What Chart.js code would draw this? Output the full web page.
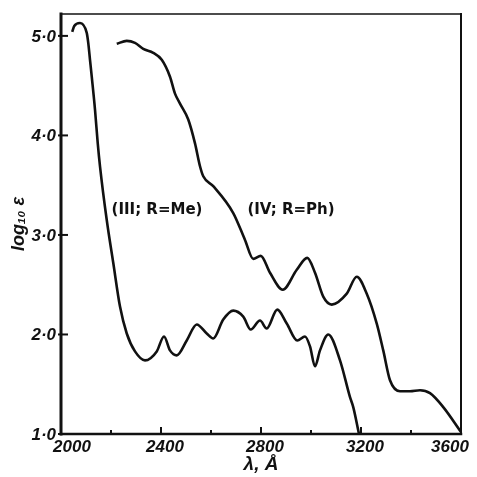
<!DOCTYPE html>
<html>
<head>
<meta charset="utf-8">
<script src="https://cdn.jsdelivr.net/npm/chart.js@4"></script>
<style>
  html, body { margin: 0; padding: 0; background: #fff; }
</style>
</head>
<body>
<canvas id="spectrum" width="477" height="477"></canvas>
<script>
/* Data */
let meWave = [2045, 2053, 2076, 2103, 2109, 2116, 2123, 2136, 2147, 2156, 2183, 2209, 2236, 2263, 2296, 2336, 2383, 2412, 2436, 2463, 2503, 2543, 2583, 2609, 2649, 2689, 2729, 2759, 2796, 2823, 2865, 2903, 2945, 2976, 2996, 3016, 3036, 3069, 3116, 3156, 3169, 3192];
let meLog = [5.04, 5.10, 5.13, 5.03, 4.93, 4.76, 4.59, 4.26, 3.92, 3.69, 3.15, 2.72, 2.28, 2.01, 1.83, 1.74, 1.83, 1.98, 1.84, 1.79, 1.94, 2.10, 2.01, 1.96, 2.15, 2.24, 2.18, 2.05, 2.14, 2.06, 2.25, 2.11, 1.94, 1.98, 1.88, 1.68, 1.84, 2.00, 1.74, 1.37, 1.27, 1.00];

let phWave = [2223, 2263, 2296, 2329, 2369, 2403, 2436, 2456, 2476, 2509, 2536, 2556, 2569, 2609, 2689, 2736, 2769, 2799, 2836, 2887, 2943, 2985, 3016, 3049, 3083, 3143, 3183, 3223, 3263, 3289, 3316, 3356, 3396, 3436, 3476, 3529, 3600];
let phLog = [4.92, 4.95, 4.93, 4.87, 4.83, 4.76, 4.59, 4.42, 4.32, 4.16, 3.92, 3.69, 3.59, 3.49, 3.22, 2.95, 2.76, 2.79, 2.62, 2.45, 2.65, 2.77, 2.62, 2.38, 2.30, 2.41, 2.58, 2.41, 2.11, 1.84, 1.54, 1.43, 1.43, 1.44, 1.41, 1.27, 1.02];

let xTicks = [2000, 2200, 2400, 2600, 2800, 3000, 3200, 3400, 3600];
let xLabelValues = [2000, 2400, 2800, 3200, 3600];
let xTickLabels = ['2000', '2400', '2800', '3200', '3600'];
let yTicks = [1, 2, 3, 4, 5];
let yTickLabels = ['1·0', '2·0', '3·0', '4·0', '5·0'];

let curveNames = ['(III; R=Me)', '(IV; R=Ph)'];
let namePlaces = [[2384, 3.25], [2920, 3.25]];

let tickFont = 'italic bold 17px "Liberation Sans"';

function toPoints(xs, ys) {
  return xs.map((x, i) => ({ x: x, y: ys[i] }));
}

// axes frame, inward ticks, tick labels and curve names
const framePlugin = {
  id: 'frame',
  afterDraw(chart) {
    let ctx = chart.ctx;
    let a = chart.chartArea;
    let xs = chart.scales.x;
    let ys = chart.scales.y;
    ctx.save();
    ctx.strokeStyle = '#111';
    ctx.lineCap = 'square';

    // top and right edges
    ctx.lineWidth = 1.6;
    ctx.beginPath();
    ctx.moveTo(a.left, a.top);
    ctx.lineTo(a.right, a.top);
    ctx.stroke();
    ctx.lineWidth = 2;
    ctx.beginPath();
    ctx.moveTo(a.right, a.top);
    ctx.lineTo(a.right, a.bottom);
    ctx.stroke();
    // left and bottom axes
    ctx.lineWidth = 3;
    ctx.beginPath();
    ctx.moveTo(a.left, a.top);
    ctx.lineTo(a.left, a.bottom);
    ctx.stroke();
    ctx.lineWidth = 2.5;
    ctx.beginPath();
    ctx.moveTo(a.left, a.bottom);
    ctx.lineTo(a.right, a.bottom);
    ctx.stroke();

    ctx.lineWidth = 2;
    ctx.lineCap = 'butt';
    xTicks.forEach((v) => {
      let px = xs.getPixelForValue(v);
      let len = xLabelValues.includes(v) ? 7 : 4;
      ctx.beginPath();
      ctx.moveTo(px, a.bottom);
      ctx.lineTo(px, a.bottom - len);
      ctx.stroke();
    });
    yTicks.forEach((v) => {
      let py = ys.getPixelForValue(v);
      ctx.beginPath();
      ctx.moveTo(a.left - 3, py);
      ctx.lineTo(a.left + 7, py);
      ctx.stroke();
    });

    ctx.fillStyle = '#111';
    ctx.font = tickFont;
    ctx.textBaseline = 'middle';
    ctx.textAlign = 'right';
    yTicks.forEach((v, i) => {
      ctx.fillText(yTickLabels[i], a.left - 5, ys.getPixelForValue(v) + 1);
    });
    ctx.textAlign = 'center';
    xLabelValues.forEach((v, i) => {
      let px = xs.getPixelForValue(v) + 4;
      px = Math.min(Math.max(px, a.left + 11), a.right - 11);
      ctx.fillText(xTickLabels[i], px, a.bottom + 13);
    });

    ctx.font = 'bold 15px "DejaVu Sans"';
    curveNames.forEach((name, i) => {
      let p = namePlaces[i];
      ctx.fillText(name, xs.getPixelForValue(p[0]), ys.getPixelForValue(p[1]));
    });
    ctx.restore();
  },
};

let ctx = document.getElementById('spectrum').getContext('2d');
let spectrumChart = new Chart(ctx, {
  type: 'line',
  data: {
    datasets: [
      {
        label: curveNames[0],
        data: toPoints(meWave, meLog),
        borderColor: '#111',
        borderWidth: 2.6,
        pointRadius: 0,
        cubicInterpolationMode: 'monotone',
        fill: false,
      },
      {
        label: curveNames[1],
        data: toPoints(phWave, phLog),
        borderColor: '#111',
        borderWidth: 2.6,
        pointRadius: 0,
        cubicInterpolationMode: 'monotone',
        fill: false,
      },
    ],
  },
  options: {
    responsive: false,
    animation: false,
    devicePixelRatio: 1,
    layout: {
      padding: { top: 14, right: 16, left: 0, bottom: 0 },
    },
    plugins: {
      legend: { display: false },
      tooltip: { enabled: false },
    },
    scales: {
      x: {
        type: 'linear',
        min: 2000,
        max: 3600,
        grid: { display: false },
        border: { display: false },
        ticks: { display: false },
        title: {
          display: true,
          text: 'λ, Å',
          color: '#111',
          font: { family: 'Liberation Sans', size: 19, style: 'italic', weight: 'bold' },
          padding: { top: 0, bottom: 1 },
        },
        afterFit(scale) {
          scale.height = 43;
        },
      },
      y: {
        type: 'linear',
        min: 1,
        max: 5.22,
        grid: { display: false },
        border: { display: false },
        ticks: { display: false },
        title: {
          display: true,
          text: 'log₁₀ ε',
          color: '#111',
          font: { family: 'Liberation Sans', size: 18, style: 'italic', weight: 'bold' },
          padding: { top: 8, bottom: 0 },
        },
        afterFit(scale) {
          scale.width = 61;
        },
      },
    },
  },
  plugins: [framePlugin],
});
</script>
</body>
</html>
